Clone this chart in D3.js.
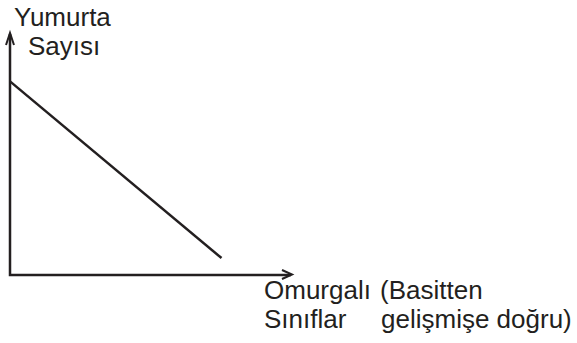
<!DOCTYPE html>
<html>
<head>
<meta charset="utf-8">
<script src="https://cdn.jsdelivr.net/npm/d3@7"></script>
<style>
  body { margin: 0; background: #fff; }
  text { font-family: "Liberation Sans", Arial, sans-serif; font-size: 26px; fill: #231f20; }
</style>
</head>
<body>
<script>
// values (arbitrary units)
const xValues = [0, 3];
const yValues = [8, 0.7];
const xDomain = [0, 4];
const yDomain = [0, 10];
const yTitle = ['Yumurta', 'Sayısı'];
const xTitleLeft = ['Omurgalı', 'Sınıflar'];
const xTitleRight = ['(Basitten', 'gelişmişe doğru)'];

const width = 577, height = 343;
const ink = '#231f20';

const svg = d3.select('body')
    .append('svg')
    .attr('width', width)
    .attr('height', height);

const x = d3.scaleLinear().domain(xDomain).range([10, 292]);
const y = d3.scaleLinear().domain(yDomain).range([275, 33]);

// axes as plain lines with open arrowheads
const x0 = x(xDomain[0]), y0 = y(yDomain[0]);
const xEnd = x(xDomain[1]), yEnd = y(yDomain[1]);

svg.append('path')
    .attr('d', `M${x0},${yEnd + 1}L${x0},${y0}L${xEnd - 1},${y0}`)
    .attr('fill', 'none')
    .attr('stroke', ink)
    .attr('stroke-width', 2.5);

// y arrowhead
svg.append('path')
    .attr('d', `M${x0 - 4},${yEnd + 12}L${x0},${yEnd}L${x0 + 4},${yEnd + 12}`)
    .attr('fill', 'none')
    .attr('stroke', ink)
    .attr('stroke-width', 2);

// x arrowhead
svg.append('path')
    .attr('d', `M${xEnd - 10},${y0 - 5}L${xEnd},${y0 - 0.5}L${xEnd - 10},${y0 + 4}`)
    .attr('fill', 'none')
    .attr('stroke', ink)
    .attr('stroke-width', 2);

// the data line
const pts = xValues.map((d, i) => [d, yValues[i]]);
svg.append('path')
    .datum(pts)
    .attr('d', d3.line().x(d => x(d[0])).y(d => y(d[1])))
    .attr('fill', 'none')
    .attr('stroke', ink)
    .attr('stroke-width', 2.5);

// titles
svg.append('text').attr('x', 14).attr('y', 26).text(yTitle[0]);
svg.append('text').attr('x', 28).attr('y', 55).text(yTitle[1]);

svg.selectAll('.xl')
    .data(xTitleLeft)
    .enter()
    .append('text')
    .attr('x', 264)
    .attr('y', (d, i) => 299 + i * 29)
    .text(d => d);

svg.selectAll('.xr')
    .data(xTitleRight)
    .enter()
    .append('text')
    .attr('x', (d, i) => i ? 381 : 380)
    .attr('y', (d, i) => 299 + i * 29)
    .text(d => d);
</script>
</body>
</html>
